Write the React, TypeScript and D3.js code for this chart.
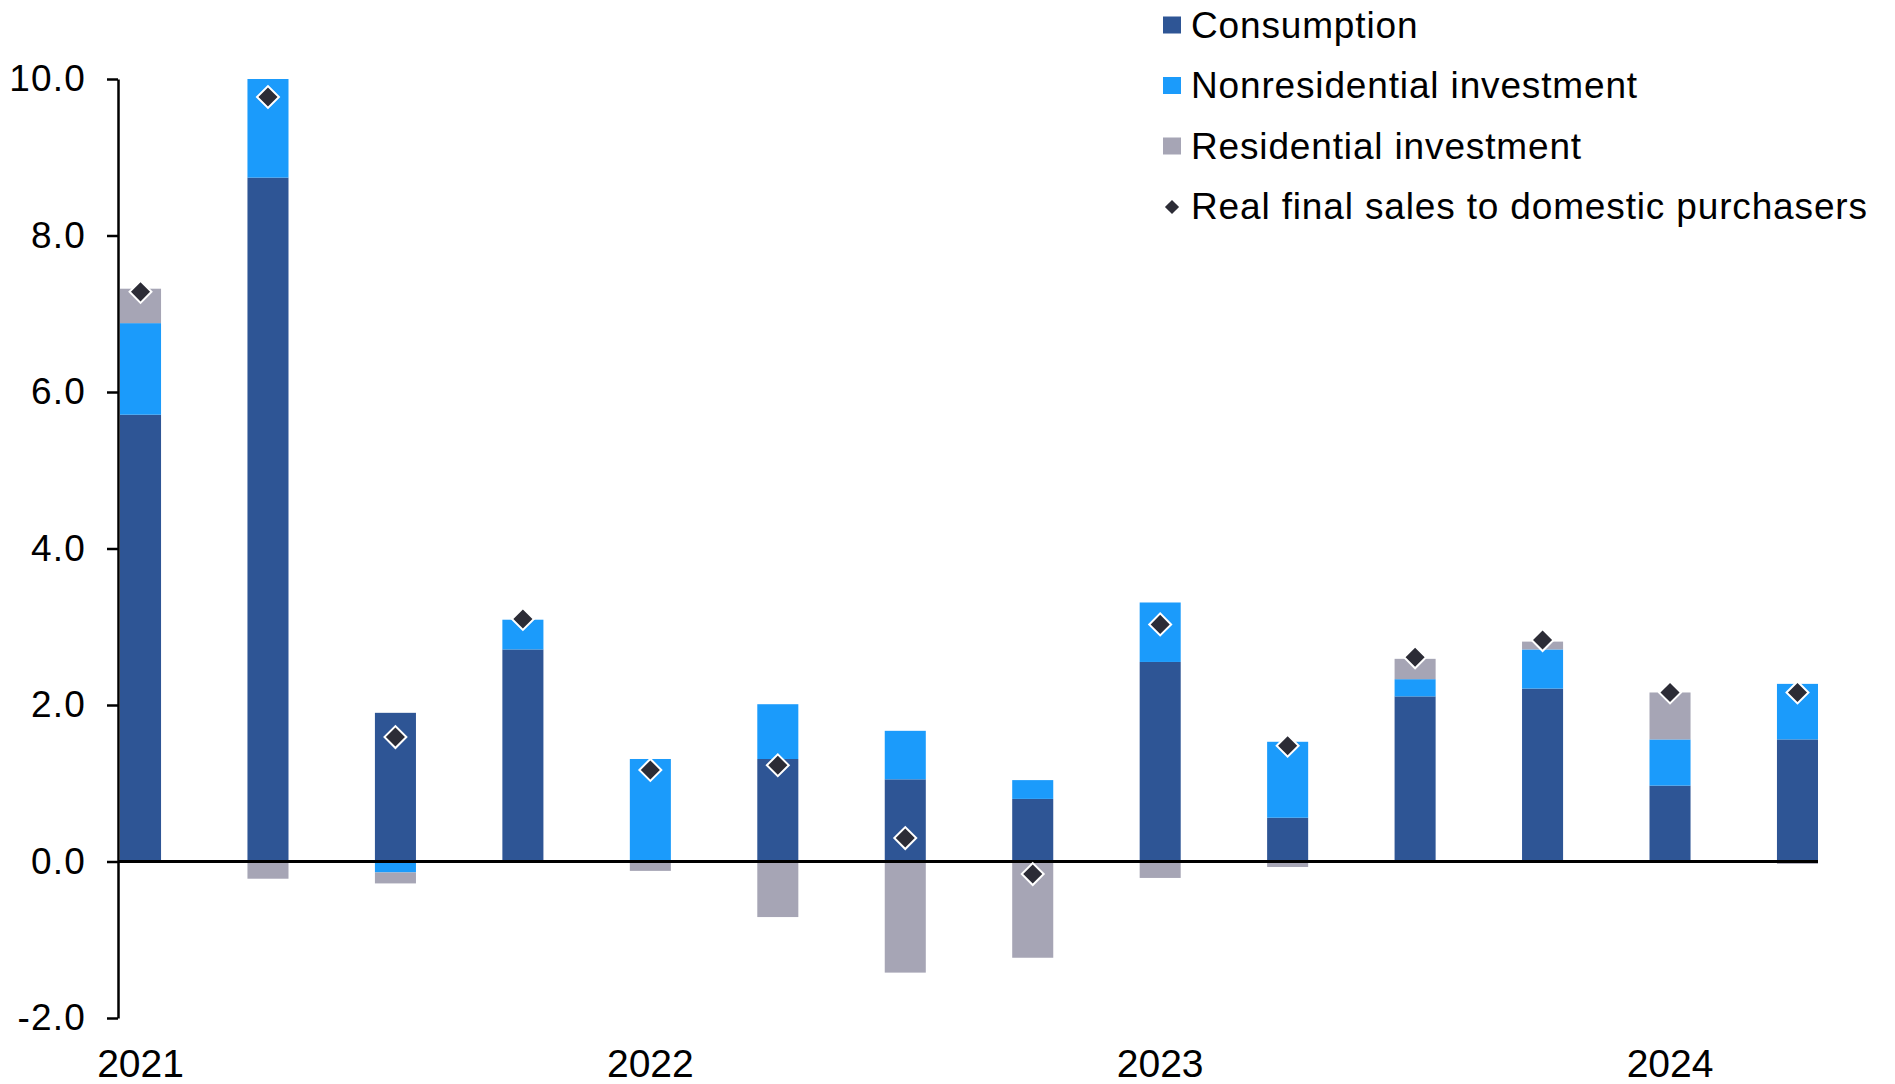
import * as d3 from "d3";
import { useEffect, useRef } from "react";

// quarterly contributions, 2021Q1 - 2024Q2
const quarters = ["2021Q1", "2021Q2", "2021Q3", "2021Q4", "2022Q1", "2022Q2", "2022Q3", "2022Q4", "2023Q1", "2023Q2", "2023Q3", "2023Q4", "2024Q1", "2024Q2"];
const consumption = [5.71, 8.74, 1.9, 2.71, 0.0, 1.31, 1.05, 0.8, 2.55, 0.56, 2.11, 2.21, 0.97, 1.56];
const nonresidential = [1.17, 1.26, -0.14, 0.38, 1.31, 0.7, 0.62, 0.24, 0.76, 0.97, 0.22, 0.5, 0.59, 0.71];
const residential = [0.44, -0.22, -0.14, 0.0, -0.12, -0.71, -1.42, -1.23, -0.21, -0.07, 0.26, 0.1, 0.6, -0.03];
const finalSales = [7.28, 9.77, 1.59, 3.1, 1.17, 1.23, 0.3, -0.16, 3.03, 1.48, 2.61, 2.83, 2.16, 2.16];
const yearLabels = { "2021Q1": "2021", "2022Q1": "2022", "2023Q1": "2023", "2024Q1": "2024" };
const yTicks = [-2, 0, 2, 4, 6, 8, 10];

const seriesNames = ["Consumption", "Nonresidential investment", "Residential investment"];
const seriesColors = ["#2E5595", "#1B9BFB", "#A6A5B5"];
const diamondColor = "#2C2C36";
const font = "'Liberation Sans', Arial, sans-serif";

function App() {
	const ref = useRef(null);

	useEffect(() => {
		const svg = d3.select(ref.current);
		svg.selectAll("*").remove();

		const x = d3.scaleBand().domain(quarters).range([120, 1818]).paddingInner(0.678).paddingOuter(0);
		const y = d3.scaleLinear().domain([-2, 10]).range([1018, 79]);

		const table = quarters.map((q, i) => ({
			q,
			Consumption: consumption[i],
			"Nonresidential investment": nonresidential[i],
			"Residential investment": residential[i],
		}));
		const stacked = d3.stack().keys(seriesNames).offset(d3.stackOffsetDiverging)(table);

		// bars
		svg.append("g")
			.selectAll("g")
			.data(stacked)
			.join("g")
			.attr("fill", (d, i) => seriesColors[i])
			.selectAll("rect")
			.data(d => d)
			.join("rect")
			.attr("x", d => x(d.data.q))
			.attr("width", x.bandwidth())
			.attr("y", d => y(Math.max(d[0], d[1])))
			.attr("height", d => Math.abs(y(d[0]) - y(d[1])));

		// y axis
		const yAxis = d3.axisLeft(y).tickValues(yTicks).tickSize(11).tickSizeOuter(0).tickPadding(21).tickFormat(d => d.toFixed(1));
		const ag = svg.append("g").attr("transform", "translate(118,0)").call(yAxis);
		ag.select(".domain").attr("stroke", "#000").attr("stroke-width", 2.5);
		ag.selectAll(".tick line").attr("stroke", "#000").attr("stroke-width", 2.5);
		ag.selectAll(".tick text").attr("font-family", font).attr("font-size", 37).attr("letter-spacing", 1.2).attr("fill", "#000");

		// zero line
		svg.append("line")
			.attr("x1", 118).attr("x2", x.range()[1])
			.attr("y1", y(0)).attr("y2", y(0))
			.attr("stroke", "#000").attr("stroke-width", 3);

		// year labels
		svg.append("g")
			.selectAll("text")
			.data(quarters.filter(q => yearLabels[q]))
			.join("text")
			.attr("x", q => x(q) + x.bandwidth() / 2)
			.attr("y", 1077)
			.attr("text-anchor", "middle")
			.attr("font-family", font)
			.attr("font-size", 39)
			.text(q => yearLabels[q]);

		// diamonds
		const diamond = d3.symbol().type(d3.symbolSquare).size(240);
		svg.append("g")
			.selectAll("path")
			.data(finalSales)
			.join("path")
			.attr("d", diamond)
			.attr("transform", (d, i) => `translate(${x(quarters[i]) + x.bandwidth() / 2},${y(d)}) rotate(45)`)
			.attr("fill", diamondColor)
			.attr("stroke", "#fff")
			.attr("stroke-width", 2);

		// legend
		const legend = svg.append("g").attr("transform", "translate(1163,0)");
		const items = [...seriesNames, "Real final sales to domestic purchasers"];
		items.forEach((name, i) => {
			const cy = 25.5 + i * 60.5;
			if (i < 3) {
				legend.append("rect").attr("x", 0).attr("y", cy - 9).attr("width", 18).attr("height", 17).attr("fill", seriesColors[i]);
			} else {
				legend.append("path").attr("d", d3.symbol().type(d3.symbolSquare).size(100)).attr("transform", `translate(9,${cy}) rotate(45)`).attr("fill", diamondColor);
			}
			legend.append("text")
				.attr("x", 28)
				.attr("y", cy + 12)
				.attr("font-family", font)
				.attr("font-size", 37)
				.attr("letter-spacing", 0.85)
				.attr("fill", "#000")
				.text(name);
		});
	}, []);

	return <svg ref={ref} width={1895} height={1084} style={{ position: "absolute", left: 0, top: 0, background: "#fff" }} />;
}

export default App;
